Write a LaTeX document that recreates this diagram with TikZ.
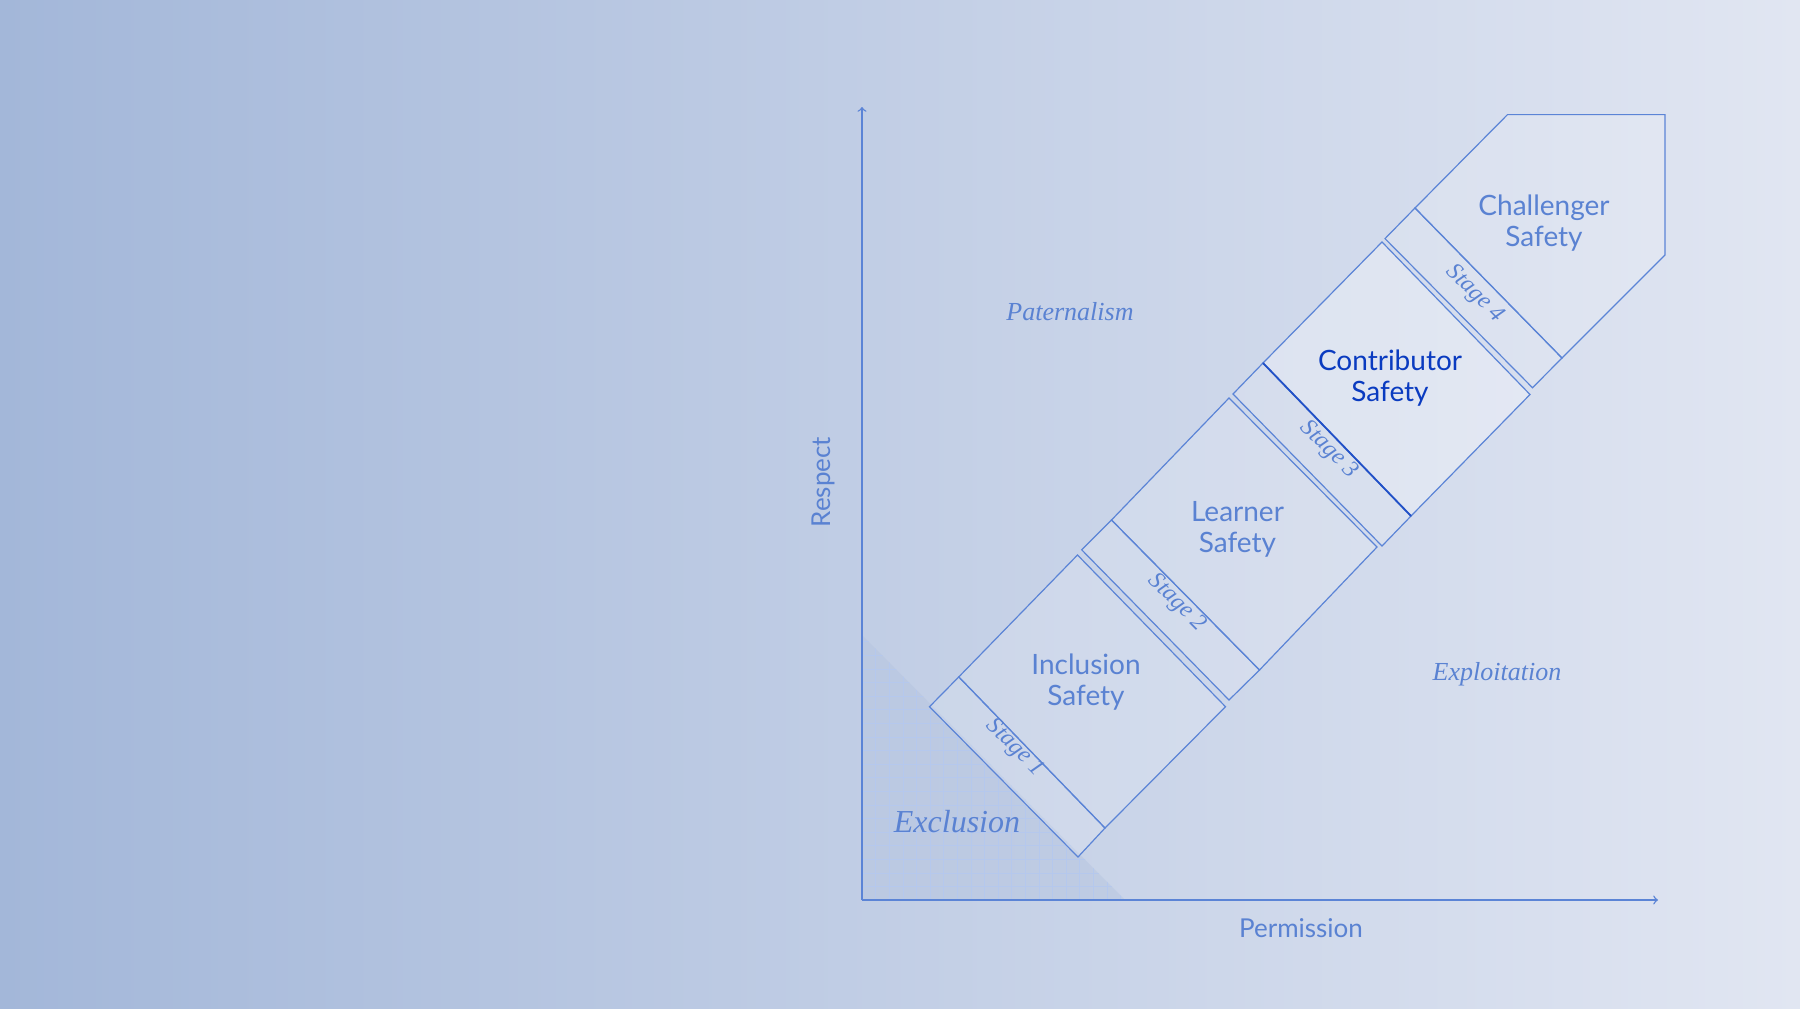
\documentclass[tikz,border=0pt]{standalone}
\usepackage{fontspec}
\setmainfont{Liberation Serif}
\setsansfont{Lato}
\begin{document}
\begin{tikzpicture}[x=0.5pt,y=-0.5pt,
  ln/.style={draw=lineblue,line width=0.6pt,fill=white,fill opacity=0.15,draw opacity=1},
  big/.style={font=\sffamily\fontsize{14}{15.5}\selectfont,text=txtblue,align=center},
  stg/.style={font=\itshape\fontsize{12}{13}\selectfont,text=txtblue,rotate=-45},
  reg/.style={font=\itshape\fontsize{13}{14}\selectfont,text=txtblue},
  ax/.style={draw=lineblue,line width=0.7pt}]
\definecolor{lineblue}{HTML}{5B84D6}
\definecolor{txtblue}{HTML}{5A82D2}
\definecolor{darkblue}{HTML}{0A3BC0}
\definecolor{bgL}{HTML}{A3B7D9}
\definecolor{bgR}{HTML}{E1E6F2}
\shade[left color=bgL,right color=bgR] (0,0) rectangle (1800,1008);
\useasboundingbox (0,0) rectangle (1800,1008);
% grid triangle
\begin{scope}
\clip (862,635) -- (862,900) -- (1125,900) -- cycle;
\fill[bgL!70!bgR,opacity=0.5] (862,635) rectangle (1125,900);
\foreach \i in {0,...,20} {
  \draw[lineblue!45,line width=0.3pt] (862+13.6*\i,630) -- (862+13.6*\i,900);
  \draw[lineblue!45,line width=0.3pt] (862,900-13.6*\i) -- (1130,900-13.6*\i);
}
\end{scope}
% axes
\draw[ax,->] (862,900) -- (862,107);
\draw[ax,->] (862,900) -- (1658,900);
\node[font=\sffamily\fontsize{13}{14}\selectfont,text=txtblue,rotate=90] (resp) at (823,482) {Respect};
\node[font=\sffamily\fontsize{13}{14}\selectfont,text=txtblue] (perm) at (1301,928) {Permission};
\node[reg] (pat) at (1070,312) {Paternalism};
\node[reg] (exp) at (1497,674) {Exploitation};
\node[font=\itshape\fontsize{16}{17}\selectfont,text=txtblue] (exc) at (957,822) {Exclusion};
% stage 1 strip
\path[ln] (929.5,706.7) -- (958.8,676.9) -- (1105,828) -- (1078,857) -- cycle;
% inclusion
\path[ln] (958.8,676.9) -- (1077.5,555) -- (1225.5,706.7) -- (1105,828) -- cycle;
% stage 2
\path[ln] (1081.7,549.8) -- (1111.5,520) -- (1259.5,670) -- (1229,700) -- cycle;
% learner
\path[ln] (1111.5,520) -- (1229,398) -- (1377,547) -- (1259.5,670) -- cycle;
% stage 3
\path[ln] (1233,394) -- (1263,363) -- (1411,516) -- (1382,546) -- cycle;
% contributor
\path[ln,fill opacity=0.3] (1263,363) -- (1382,242) -- (1530,394.5) -- (1411,516) -- cycle;
\draw[draw=darkblue!70!lineblue,line width=0.9pt] (1263,363) -- (1411,516);
% stage 4
\path[ln] (1385,238.6) -- (1415,208) -- (1562,358) -- (1532.5,387.7) -- cycle;
% challenger
\path[ln] (1415,208) -- (1507.5,114.6) -- (1665,114.6) -- (1665,255) -- (1562,358) -- cycle;
% labels
\node[big] (inc) at (1086,682) {Inclusion\\Safety};
\node[big] (lea) at (1237.5,529) {Learner\\Safety};
\node[big,text=darkblue] (con) at (1390,378) {Contributor\\Safety};
\node[big] (cha) at (1544,223) {Challenger\\Safety};
\node[stg] (s1) at (1015,748) {Stage 1};
\node[stg] (s2) at (1177,603) {Stage 2};
\node[stg] (s3) at (1329,450) {Stage 3};
\node[stg] (s4) at (1475,294) {Stage 4};
\end{tikzpicture}
\end{document}
